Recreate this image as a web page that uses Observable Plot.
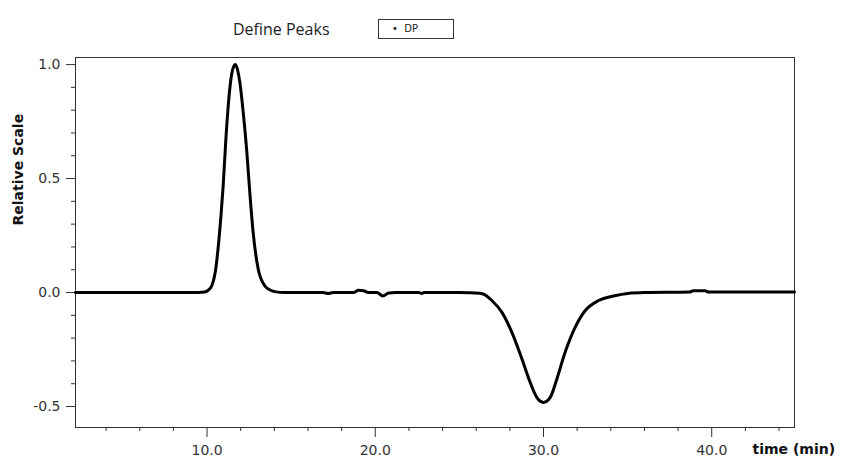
<!DOCTYPE html>
<html>
<head>
<meta charset="utf-8">
<script src="https://cdn.jsdelivr.net/npm/d3@7"></script>
<script src="https://cdn.jsdelivr.net/npm/@observablehq/plot@0.6"></script>
<style>
  body { margin: 0; background: #fff; width: 845px; height: 464px; overflow: hidden; font-family: "DejaVu Sans", sans-serif; }
  #head { position: relative; height: 48px; }
  #title { position: absolute; left: 233px; top: 18px; font-family: "Open Sans", sans-serif; font-size: 16px; color: #222; white-space: nowrap; }
  #legend { position: absolute; left: 378px; top: 19px; width: 76px; height: 20px; border: 1px solid #333; box-sizing: border-box; font-size: 10px; color: #222; }
  #legend span { position: absolute; top: 3px; left: 13px; white-space: nowrap; }
</style>
</head>
<body>
<div id="head">
  <div id="title">Define Peaks</div>
  <div id="legend"><span>•&nbsp;&nbsp;DP</span></div>
</div>
<div id="chart"></div>
<script>
const time = [2.18, 6.0, 9.5, 9.85, 10.05, 10.28, 10.4, 10.51, 10.67, 10.83, 10.96, 11.12, 11.26, 11.42, 11.55, 11.69, 11.82, 11.95, 12.15, 12.35, 12.54, 12.74, 13.04, 13.43, 13.75, 14.1, 14.6, 16.9, 17.2, 17.5, 18.7, 19.0, 19.3, 19.6, 20.1, 20.45, 20.8, 21.2, 22.6, 22.75, 22.9, 25.0, 25.6, 26.35, 26.94, 27.53, 28.12, 28.72, 29.21, 29.6, 30.0, 30.4, 30.79, 31.28, 31.88, 32.47, 33.25, 34.24, 35.0, 36.0, 38.7, 38.9, 39.6, 39.8, 44.92];
const relScale = [0, 0, 0, 0.002, 0.009, 0.030, 0.058, 0.1, 0.205, 0.34, 0.47, 0.674, 0.82, 0.937, 0.985, 1.0, 0.975, 0.922, 0.79, 0.63, 0.44, 0.264, 0.103, 0.030, 0.011, 0.003, 0, 0, -0.004, 0, 0, 0.01, 0.008, 0, 0, -0.015, -0.002, 0, 0, -0.004, 0, 0, -0.001, -0.005, -0.036, -0.087, -0.175, -0.292, -0.395, -0.46, -0.482, -0.46, -0.38, -0.263, -0.153, -0.08, -0.036, -0.014, -0.004, 0, 0.002, 0.008, 0.008, 0.002, 0.002];

const yMajorTicks = [-0.5, 0.0, 0.5, 1.0];
const yMinorTicks = [-0.4, -0.3, -0.2, -0.1, 0.1, 0.2, 0.3, 0.4, 0.6, 0.7, 0.8, 0.9];
const xMajorTicks = [10, 20, 30, 40];
const xMinorTicks = [4, 6, 8, 12, 14, 16, 18, 22, 24, 26, 28, 32, 34, 36, 38, 42, 44];
const xDomain = [2.18, 44.92];
const yDomain = [-0.592, 1.031];
const yLabel = "Relative Scale";
const xLabel = "time (min)";

const data = time.map((t, i) => ({t, v: relScale[i]}));
const fmt = d => d.toFixed(1);

const chart = Plot.plot({
  width: 845,
  height: 416,
  marginTop: 9,
  marginBottom: 37,
  marginLeft: 75,
  marginRight: 51,
  style: {fontFamily: "DejaVu Sans, sans-serif", fontSize: "14px", color: "#333", background: "#fff"},
  x: {domain: xDomain},
  y: {domain: yDomain},
  marks: [
    Plot.axisY(yMajorTicks, {tickSize: 9, tickPadding: 6, tickFormat: fmt, label: null}),
    Plot.axisY(yMinorTicks, {tickSize: 4, tickFormat: () => "", label: null}),
    Plot.axisX(xMajorTicks, {tickSize: 10, tickPadding: 8, tickFormat: fmt, label: null}),
    Plot.axisX(xMinorTicks, {tickSize: 4, tickFormat: () => "", label: null}),
    Plot.frame({stroke: "#333"}),
    Plot.line(data, {x: "t", y: "v", stroke: "#000", strokeWidth: 3, curve: "monotone-x"}),
    Plot.text([yLabel], {text: d => d, frameAnchor: "left", rotate: -90, dx: -57, dy: -17, fontWeight: "bold", fontSize: 14, fill: "#111"}),
    Plot.text([xLabel], {text: d => d, frameAnchor: "bottom-right", textAnchor: "start", dx: -42, dy: 26, fontWeight: "bold", fontSize: 14, fill: "#111"})
  ]
});
document.getElementById("chart").appendChild(chart);
</script>
</body>
</html>
